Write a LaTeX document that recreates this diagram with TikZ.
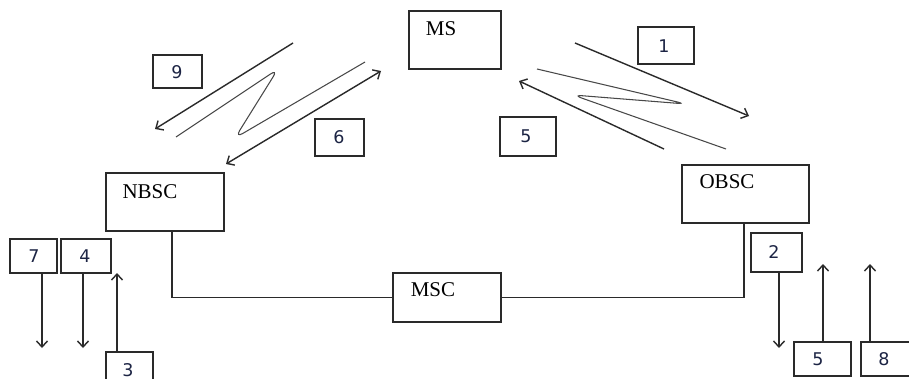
\documentclass[tikz,border=0pt]{standalone}
\usepackage{fontspec}
\setmainfont{Liberation Serif}
\newfontfamily\numfont{DejaVu Sans}
\usetikzlibrary{arrows.meta,calc}
\definecolor{linec}{HTML}{2A2A2A}
\definecolor{wavec}{HTML}{484848}
\definecolor{numc}{HTML}{1C2444}
\begin{document}
\begin{tikzpicture}[x=1pt,y=-1pt,
 box/.style={draw=linec, line width=1.3pt, inner sep=0pt, outer sep=0pt, anchor=north west},
 num/.style={font=\numfont\fontsize{17.5}{18}\selectfont, text=numc, inner sep=0pt},
 lab/.style={font=\fontsize{21}{21}\selectfont, inner sep=0pt},
 arr/.style={draw=linec, line width=1.4pt, -{Straight Barb[length=6pt,width=11pt]}},
 darr/.style={draw=linec, line width=1.4pt, {Straight Barb[length=6pt,width=11pt]}-{Straight Barb[length=6pt,width=11pt]}},
 wave/.style={draw=wavec, line width=1.05pt, rounded corners=9pt},
 conn/.style={draw=linec, line width=1.3pt}]
\useasboundingbox (0,0) rectangle (909,379);
\fill[white] (0,0) rectangle (909,379);
% main boxes
\node[box, minimum width=92pt, minimum height=58pt] (ms) at (409,11) {};
\node[box, minimum width=118pt, minimum height=58pt] (nbsc) at (106,173) {};
\node[box, minimum width=127pt, minimum height=58pt] (obsc) at (682,165) {};
\node[box, minimum width=108pt, minimum height=49pt] (msc) at (393,273) {};
\node[lab] (mst) at (441,29) {MS};
\node[lab] (nbsct) at (150,192) {NBSC};
\node[lab] (obsct) at (727,182) {OBSC};
\node[lab] (msct) at (433,290) {MSC};
% number boxes
\node[box, minimum width=49pt, minimum height=33pt] (b9) at (153,55) {};
\node[box, minimum width=49pt, minimum height=37pt] (b6) at (315,119) {};
\node[box, minimum width=56pt, minimum height=37pt] (b1) at (638,27) {};
\node[box, minimum width=56pt, minimum height=39pt] (b5a) at (500,117) {};
\node[box, minimum width=47pt, minimum height=34pt] (b7) at (10,239) {};
\node[box, minimum width=50pt, minimum height=34pt] (b4) at (61,239) {};
\node[box, minimum width=47pt, minimum height=40pt] (b3) at (106,352) {};
\node[box, minimum width=51pt, minimum height=39pt] (b2) at (751,233) {};
\node[box, minimum width=57pt, minimum height=34pt] (b5b) at (794,342) {};
\node[box, minimum width=55pt, minimum height=34pt] (b8) at (861,342) {};
\node[num] (t9) at (177,72) {9};
\node[num] (t6) at (339,137) {6};
\node[num] (t1) at (664,46) {1};
\node[num] (t5a) at (526,136) {5};
\node[num] (t7) at (34,256) {7};
\node[num] (t4) at (85,256) {4};
\node[num] (t3) at (128,370) {3};
\node[num] (t2) at (774,252) {2};
\node[num] (t5b) at (818,359) {5};
\node[num] (t8) at (884,359) {8};
% connections to MSC
\draw[conn] ($(nbsc.south west)+(66,0)$) |- (msc.west);
\draw[conn] ($(obsc.south west)+(62,0)$) |- (msc.east);
% vertical arrows
\coordinate (e7) at (42,348);
\coordinate (e4) at (83,348);
\coordinate (e3) at (117,273);
\coordinate (e2) at (779,348);
\coordinate (e5) at (823,264);
\coordinate (e8) at (870,264);
\draw[arr] ($(b7.south west)+(32,0)$) -- (e7);
\draw[arr] ($(b4.south west)+(22,0)$) -- (e4);
\draw[arr] ($(b3.north west)+(11,0)$) -- (e3);
\draw[arr] ($(b2.south west)+(28,0)$) -- (e2);
\draw[arr] ($(b5b.north west)+(29,0)$) -- (e5);
\draw[arr] ($(b8.north west)+(9,0)$) -- (e8);
% diagonal arrows
\coordinate (s9) at (293,43);
\coordinate (f9) at (155,129);
\coordinate (s6) at (226,164);
\coordinate (f6) at (381,71);
\coordinate (s1) at (575,43);
\coordinate (f1) at (749,116);
\coordinate (s5) at (664,149);
\coordinate (f5) at (519,81);
\draw[arr] (s9) -- (f9);
\draw[darr] (s6) -- (f6);
\draw[arr] (s1) -- (f1);
\draw[arr] (s5) -- (f5);
% wavy links
\coordinate (wl1) at (176,137);
\coordinate (wl2) at (278,69);
\coordinate (wl3) at (235,138);
\coordinate (wl4) at (365,62);
\draw[wave] (wl1) -- (wl2) -- (wl3) -- (wl4);
\coordinate (wr1) at (537,69);
\coordinate (wr2) at (686,104);
\coordinate (wr3) at (573,95);
\coordinate (wr4) at (726,149);
\draw[wave] (wr1) -- (wr2) -- (wr3) -- (wr4);
\end{tikzpicture}
\end{document}
